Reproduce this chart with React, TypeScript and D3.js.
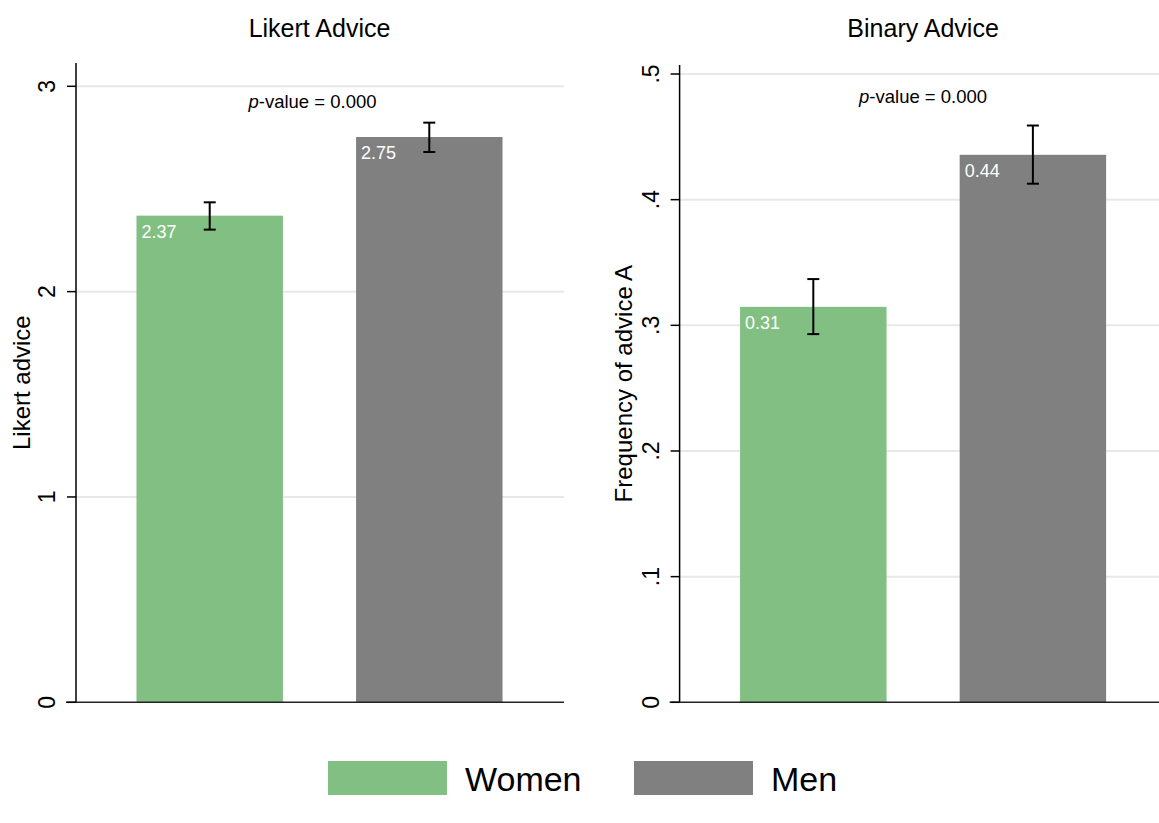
import React from "react";
import * as d3 from "d3";

const categories = ["Women", "Men"];
const colors = ["#82bf82", "#808080"];

const likertMeans = [2.37, 2.753];
const likertLow = [2.302, 2.68];
const likertHigh = [2.435, 2.823];
const likertTicks = [0, 1, 2, 3];

const binaryMeans = [0.3147, 0.4357];
const binaryLow = [0.293, 0.4127];
const binaryHigh = [0.3368, 0.459];
const binaryTicks = [0, 0.1, 0.2, 0.3, 0.4, 0.5];

const titles = ["Likert Advice", "Binary Advice"];
const yTitles = ["Likert advice", "Frequency of advice A"];
const pValueText = "-value = 0.000";

const FONT = "'Liberation Sans', Arial, Helvetica, sans-serif";

type PanelProps = {
  axisX: number;
  xEnd: number;
  lineEnd: number;
  yMax: number;
  yTopPx: number;
  axisTop: number;
  means: number[];
  low: number[];
  high: number[];
  ticks: number[];
  tickFmt: (v: number) => string;
  title: string;
  yTitle: string;
  yTitleX: number;
  pY: number;
  pDx: number;
};

function Panel(p: PanelProps) {
  const x = d3
    .scaleBand<string>()
    .domain(categories)
    .range([p.axisX - 1, p.xEnd])
    .paddingInner(0.333)
    .paddingOuter(0.28);
  const y = d3.scaleLinear().domain([0, p.yMax]).range([702.3, p.yTopPx]);
  const fmt = d3.format(".2f");
  const midBars = ((x("Women") as number) + (x("Men") as number) + x.bandwidth()) / 2;
  const plotMidY = (y(0) + p.axisTop) / 2;
  return (
    <g>
      <text x={midBars} y={37} textAnchor="middle" fontSize={25} fontFamily={FONT} fill="#000">
        {p.title}
      </text>
      {p.ticks
        .filter((t) => t > 0)
        .map((t) => (
          <line key={"g" + t} x1={p.axisX} x2={p.lineEnd} y1={y(t)} y2={y(t)} stroke="#e8e8e8" strokeWidth={2} />
        ))}
      {categories.map((c, i) => (
        <rect
          key={c}
          x={x(c) as number}
          y={y(p.means[i])}
          width={x.bandwidth()}
          height={y(0) - y(p.means[i])}
          fill={colors[i]}
        />
      ))}
      {categories.map((c, i) => (
        <text
          key={"l" + c}
          x={(x(c) as number) + 5}
          y={y(p.means[i]) + 22}
          fontSize={18}
          fontFamily={FONT}
          fill="#fff"
        >
          {fmt(p.means[i])}
        </text>
      ))}
      {categories.map((c, i) => {
        const ex = (x(c) as number) + x.bandwidth() / 2;
        return (
          <g key={"e" + c} stroke="#000" strokeWidth={2}>
            <line x1={ex} x2={ex} y1={y(p.low[i])} y2={y(p.high[i])} />
            <line x1={ex - 6} x2={ex + 6} y1={y(p.low[i])} y2={y(p.low[i])} />
            <line x1={ex - 6} x2={ex + 6} y1={y(p.high[i])} y2={y(p.high[i])} />
          </g>
        );
      })}
      <text x={midBars + p.pDx} y={p.pY} textAnchor="middle" fontSize={18.5} fontFamily={FONT} fill="#000">
        <tspan fontStyle="italic">p</tspan>
        {pValueText}
      </text>
      <line x1={p.axisX} x2={p.axisX} y1={p.axisTop} y2={y(0)} stroke="#000" strokeWidth={1.5} />
      <line x1={p.axisX - 10} x2={p.lineEnd} y1={y(0)} y2={y(0)} stroke="#222" strokeWidth={1.5} />
      {p.ticks.map((t) => (
        <g key={"t" + t}>
          <line x1={p.axisX - 9} x2={p.axisX} y1={y(t)} y2={y(t)} stroke="#000" strokeWidth={1.5} />
          <text
            transform={`translate(${p.axisX - 21},${y(t)}) rotate(-90)`}
            textAnchor="middle"
            fontSize={23}
            fontFamily={FONT}
            fill="#000"
          >
            {p.tickFmt(t)}
          </text>
        </g>
      ))}
      <text
        transform={`translate(${p.yTitleX},${plotMidY}) rotate(-90)`}
        textAnchor="middle"
        fontSize={24}
        fontFamily={FONT}
        fill="#000"
      >
        {p.yTitle}
      </text>
    </g>
  );
}

export default function App() {
  const tickBin = (v: number) => (v === 0 ? "0" : d3.format(".1f")(v).replace(/^0/, ""));
  return (
    <svg
      width={1159}
      height={823}
      style={{ position: "absolute", left: 0, top: 0, background: "#fff" }}
      fontFamily={FONT}
    >
      <rect x={0} y={0} width={1159} height={823} fill="#fff" />
      <Panel
        axisX={76}
        xEnd={564}
        lineEnd={564}
        yMax={3}
        yTopPx={86.3}
        axisTop={63}
        means={likertMeans}
        low={likertLow}
        high={likertHigh}
        ticks={likertTicks}
        tickFmt={(v) => String(v)}
        title={titles[0]}
        yTitle={yTitles[0]}
        yTitleX={30}
        pY={108}
        pDx={-7}
      />
      <Panel
        axisX={679.6}
        xEnd={1167.6}
        lineEnd={1159}
        yMax={0.5}
        yTopPx={74}
        axisTop={65}
        means={binaryMeans}
        low={binaryLow}
        high={binaryHigh}
        ticks={binaryTicks}
        tickFmt={tickBin}
        title={titles[1]}
        yTitle={yTitles[1]}
        yTitleX={632}
        pY={103}
        pDx={0}
      />
      {categories.map((c, i) => {
        const bx = i === 0 ? 328 : 634;
        return (
          <g key={"leg" + c}>
            <rect x={bx} y={761} width={119} height={34} fill={colors[i]} />
            <text x={bx + 137} y={791} fontSize={34} fontFamily={FONT} fill="#000">
              {c}
            </text>
          </g>
        );
      })}
    </svg>
  );
}
